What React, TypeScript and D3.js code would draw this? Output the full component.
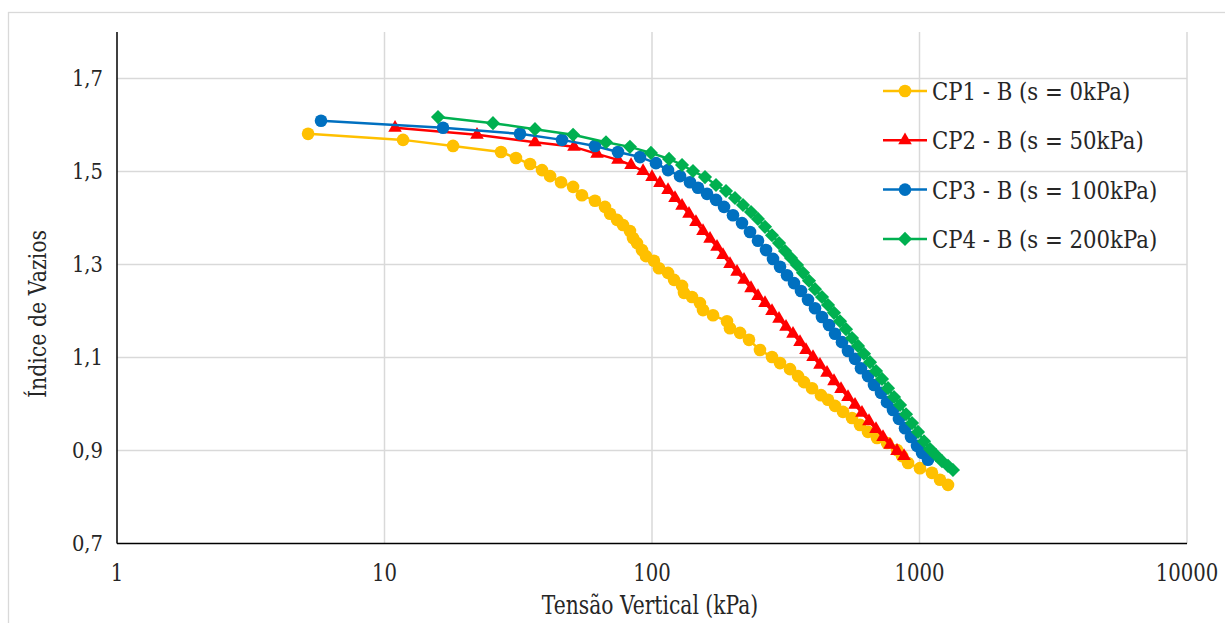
import React from "react";
import * as d3 from "d3";

// ---- Data ----
const cp1Stress = [5.18, 11.73, 18.04, 27.26, 31.0, 35.0, 38.8, 41.6, 45.7, 50.7, 54.7, 61.2, 66.7, 69.7, 74.0, 77.9, 82.7, 84.9, 87.9, 91.7, 95.0, 101.7, 106.2, 114.8, 120.9, 129.5, 131.7, 141.1, 151.1, 155.1, 169.1, 190.7, 195.7, 213.3, 230.5, 253.3, 280.9, 301.0, 328.1, 351.5, 370.1, 396.4, 428.3, 455.0, 483.2, 517.6, 559.4, 599.3, 642.0, 693.6, 756.0, 824.0, 860.3, 905.8, 1004, 1113, 1193, 1278];
const cp1Void = [1.581, 1.568, 1.555, 1.542, 1.529, 1.516, 1.503, 1.49, 1.477, 1.467, 1.449, 1.437, 1.424, 1.409, 1.396, 1.385, 1.372, 1.357, 1.346, 1.331, 1.318, 1.308, 1.292, 1.282, 1.267, 1.254, 1.239, 1.23, 1.217, 1.202, 1.191, 1.178, 1.163, 1.153, 1.138, 1.116, 1.101, 1.088, 1.075, 1.06, 1.047, 1.034, 1.019, 1.009, 0.996, 0.983, 0.97, 0.955, 0.94, 0.927, 0.916, 0.901, 0.888, 0.873, 0.862, 0.852, 0.837, 0.826];

const cp2Stress = [10.95, 22.17, 36.52, 51.1, 62.3, 74.6, 83.5, 92.6, 100.0, 107.1, 114.8, 121.9, 129.5, 137.5, 146.0, 155.1, 164.8, 175.0, 184.3, 195.7, 207.9, 220.8, 234.5, 249.0, 264.5, 280.9, 298.4, 316.9, 336.6, 357.5, 376.4, 399.9, 424.6, 451.1, 479.1, 508.8, 540.3, 574.1, 609.5, 647.4, 687.7, 730.4, 775.8, 824.0, 875.3];
const cp2Void = [1.594, 1.579, 1.563, 1.553, 1.538, 1.525, 1.514, 1.501, 1.488, 1.475, 1.46, 1.443, 1.426, 1.409, 1.391, 1.372, 1.355, 1.338, 1.32, 1.301, 1.284, 1.267, 1.249, 1.232, 1.217, 1.2, 1.183, 1.166, 1.151, 1.133, 1.116, 1.101, 1.084, 1.067, 1.049, 1.032, 1.015, 0.998, 0.981, 0.963, 0.946, 0.929, 0.912, 0.899, 0.888];

const cp3Stress = [5.79, 16.55, 32.1, 46.1, 61.2, 74.6, 90.2, 103.5, 114.8, 127.3, 138.7, 148.6, 160.6, 173.5, 185.9, 200.8, 217.0, 232.5, 249.0, 266.8, 283.4, 301.0, 319.7, 339.5, 360.6, 383.0, 406.8, 432.0, 458.9, 483.2, 513.2, 540.3, 574.1, 604.3, 642.0, 676.0, 718.0, 756.0, 796.0, 838.0, 882.8, 929.4, 978.8, 1021.7, 1076];
const cp3Void = [1.609, 1.594, 1.581, 1.568, 1.555, 1.542, 1.531, 1.518, 1.503, 1.49, 1.477, 1.465, 1.452, 1.439, 1.424, 1.406, 1.389, 1.37, 1.351, 1.331, 1.312, 1.295, 1.277, 1.26, 1.243, 1.224, 1.206, 1.187, 1.17, 1.151, 1.133, 1.114, 1.097, 1.077, 1.06, 1.041, 1.024, 1.004, 0.987, 0.968, 0.948, 0.929, 0.91, 0.895, 0.88];

const cp4Stress = [15.85, 25.44, 36.52, 50.7, 67.3, 82.7, 99.1, 115.8, 129.5, 142.3, 157.8, 173.5, 189.1, 204.3, 218.9, 234.5, 249.0, 264.5, 280.9, 298.4, 314.3, 330.9, 348.4, 366.9, 386.3, 406.8, 432.0, 455.0, 479.1, 504.4, 531.1, 559.4, 589.0, 620.2, 653.1, 687.7, 724.1, 762.5, 803.0, 845.6, 890.4, 937.6, 987.2, 1039.5, 1094.7, 1152.7, 1213.8, 1278, 1334];
const cp4Void = [1.617, 1.604, 1.591, 1.579, 1.563, 1.553, 1.54, 1.527, 1.514, 1.501, 1.488, 1.471, 1.458, 1.443, 1.428, 1.413, 1.398, 1.381, 1.363, 1.346, 1.329, 1.314, 1.299, 1.282, 1.265, 1.247, 1.23, 1.213, 1.196, 1.178, 1.161, 1.142, 1.125, 1.108, 1.09, 1.071, 1.054, 1.034, 1.015, 0.998, 0.978, 0.959, 0.94, 0.92, 0.903, 0.89, 0.877, 0.867, 0.858];

const seriesNames = ["CP1 - B (s = 0kPa)", "CP2 - B (s = 50kPa)", "CP3 - B (s = 100kPa)", "CP4 - B (s = 200kPa)"];
const seriesColors = ["#FFC000", "#FF0000", "#0070C0", "#00B050"];
const seriesMarkers = ["circle", "triangle", "circle", "diamond"];

const xTicks = [1, 10, 100, 1000, 10000];
const yTicks = [0.7, 0.9, 1.1, 1.3, 1.5, 1.7];

const xTitle = "Tensão Vertical (kPa)";
const yTitle = "Índice de Vazios";

const W = 1225;
const H = 623;
const FONT = "'DejaVu Serif', 'Liberation Serif', serif";

function markerPath(kind: string): string {
  if (kind === "triangle") return d3.symbol(d3.symbolTriangle, 80)() || "";
  if (kind === "diamond") return d3.symbol(d3.symbolSquare, 100)() || "";
  return d3.symbol(d3.symbolCircle, 125)() || "";
}

const txt = { fontFamily: FONT };

export default function App() {
  const x = d3.scaleLog().domain([1, 10000]).range([117, 1187]);
  const y = d3.scaleLinear().domain([0.7, 1.8]).range([543.5, 32]);

  const all = [
    { s: cp1Stress, v: cp1Void },
    { s: cp2Stress, v: cp2Void },
    { s: cp3Stress, v: cp3Void },
    { s: cp4Stress, v: cp4Void },
  ];

  const line = d3
    .line<[number, number]>()
    .x((d) => x(d[0]))
    .y((d) => y(d[1]));

  const legendX = 883;
  const legendY0 = 91;
  const legendDy = 49.3;

  return (
    <svg width={W} height={H} style={{ position: "absolute", left: 0, top: 0, background: "#fff" }}>
      <rect x={0} y={0} width={W} height={H} fill="#fff" />
      <rect x={8.5} y={12.5} width={W + 20} height={H + 20} fill="#fff" stroke="#d9d9d9" strokeWidth={1.3} />

      {/* gridlines */}
      {xTicks.slice(1).map((t) => (
        <line key={"gx" + t} x1={x(t)} x2={x(t)} y1={32} y2={y(0.7)} stroke="#d9d9d9" strokeWidth={1.5} />
      ))}
      {yTicks.slice(1).map((t) => (
        <line key={"gy" + t} x1={x(1)} x2={x(10000)} y1={y(t)} y2={y(t)} stroke="#d9d9d9" strokeWidth={1.5} />
      ))}

      {/* axes */}
      <line x1={x(1)} x2={x(1)} y1={32} y2={y(0.7)} stroke="#000" strokeWidth={1.5} />
      <line x1={x(1)} x2={x(10000)} y1={y(0.7)} y2={y(0.7)} stroke="#000" strokeWidth={1.5} />

      {/* tick labels */}
      {xTicks.map((t) => (
        <text key={"tx" + t} x={x(t)} y={581} textAnchor="middle" fontSize={24} fill="#262626" style={txt} transform={`translate(${x(t)},0) scale(0.82,1) translate(${-x(t)},0)`}>
          {String(t)}
        </text>
      ))}
      {yTicks.map((t) => (
        <text key={"ty" + t} x={103} y={y(t) + 8} textAnchor="end" fontSize={23} fill="#262626" style={txt} transform={`translate(103,0) scale(0.85,1) translate(-103,0)`}>
          {t.toFixed(1).replace(".", ",")}
        </text>
      ))}

      {/* axis titles */}
      <text x={650} y={614} textAnchor="middle" fontSize={26} fill="#262626" style={txt} transform={`translate(650,0) scale(0.78,1) translate(-650,0)`}>
        {xTitle}
      </text>
      <text transform={`translate(46,314) rotate(-90) scale(0.82,1)`} textAnchor="middle" fontSize={25} fill="#262626" style={txt}>
        {yTitle}
      </text>

      {/* series */}
      {all.map((ser, i) => {
        const pts: [number, number][] = ser.s.map((s, k) => [s, ser.v[k]]);
        const mp = markerPath(seriesMarkers[i]);
        return (
          <g key={"s" + i}>
            <path d={line(pts) || ""} fill="none" stroke={seriesColors[i]} strokeWidth={2.5} strokeLinejoin="round" />
            {pts.map((p, k) => (
              <path
                key={k}
                d={mp}
                fill={seriesColors[i]}
                transform={`translate(${x(p[0])},${y(p[1])})${seriesMarkers[i] === "diamond" ? " rotate(45)" : ""}`}
              />
            ))}
          </g>
        );
      })}

      {/* legend */}
      {seriesNames.map((name, i) => {
        const cy = legendY0 + i * legendDy;
        const mp = markerPath(seriesMarkers[i]);
        return (
          <g key={"l" + i}>
            <line x1={legendX} x2={legendX + 44} y1={cy} y2={cy} stroke={seriesColors[i]} strokeWidth={2.5} />
            <path d={mp} fill={seriesColors[i]} transform={`translate(${legendX + 22},${cy})${seriesMarkers[i] === "diamond" ? " rotate(45)" : ""}`} />
            <text x={legendX + 49} y={cy + 9} fontSize={25} fill="#262626" style={txt} transform={`translate(${legendX + 49},0) scale(0.85,1) translate(${-(legendX + 49)},0)`}>
              {name}
            </text>
          </g>
        );
      })}
    </svg>
  );
}
